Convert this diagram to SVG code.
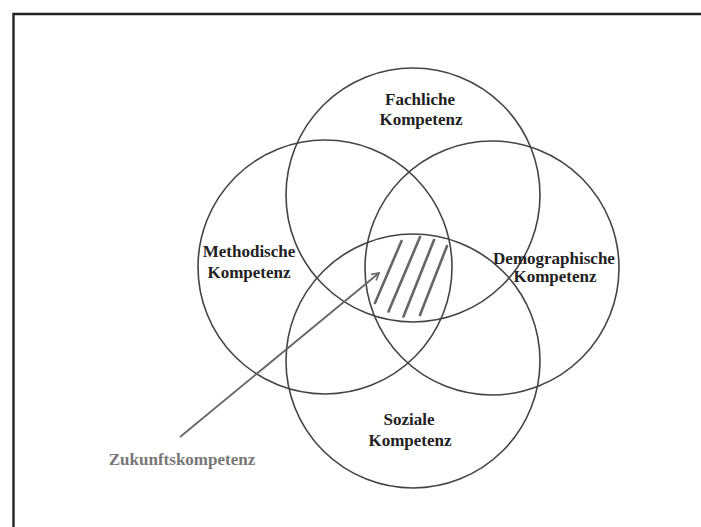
<svg xmlns="http://www.w3.org/2000/svg" width="701" height="527" viewBox="0 0 701 527">
<style>
.c{fill:none;stroke:#444;stroke-width:1.6}
.l{font-family:"Liberation Serif","Times New Roman",serif;font-weight:bold;font-size:17px;fill:#222;text-anchor:middle}
.h{stroke:#666;stroke-width:2.6;stroke-linecap:round}
</style>
<defs>
<marker id="ah" markerWidth="10" markerHeight="10" refX="8" refY="5" orient="auto" markerUnits="userSpaceOnUse">
<path d="M1,1 L8,5 L1,9" fill="none" stroke="#666" stroke-width="1.6"/>
</marker>
</defs>
<rect width="701" height="527" fill="#fff"/>
<path d="M13.5,540 V14 H720" fill="none" stroke="#222" stroke-width="2.4"/>
<g id="fachliche">
<circle class="c" cx="413" cy="195" r="127"/>
<text class="l" x="420" y="105">Fachliche</text>
<text class="l" x="421" y="125">Kompetenz</text>
</g>
<g id="methodische">
<circle class="c" cx="325" cy="267" r="127"/>
<text class="l" x="249" y="257">Methodische</text>
<text class="l" x="249" y="278">Kompetenz</text>
</g>
<g id="demographische">
<circle class="c" cx="492" cy="268" r="127"/>
<text class="l" x="554" y="264">Demographische</text>
<text class="l" x="555" y="282">Kompetenz</text>
</g>
<g id="soziale">
<circle class="c" cx="413" cy="361" r="127"/>
<text class="l" x="409" y="425">Soziale</text>
<text class="l" x="410" y="446">Kompetenz</text>
</g>
<g id="zukunft">
<line class="h" x1="401.5" y1="241" x2="375" y2="303"/>
<line class="h" x1="420" y1="237" x2="388.5" y2="311.5"/>
<line class="h" x1="434" y1="240" x2="403.5" y2="316.5"/>
<line class="h" x1="447" y1="246" x2="420" y2="315"/>
<text x="182" y="465" font-family="Liberation Serif, serif" font-weight="bold" font-size="17" fill="#777" text-anchor="middle">Zukunftskompetenz</text>
</g>
<g id="connectors">
<line x1="180" y1="437" x2="379" y2="273" stroke="#666" stroke-width="1.8" marker-end="url(#ah)"/>
</g>
</svg>
